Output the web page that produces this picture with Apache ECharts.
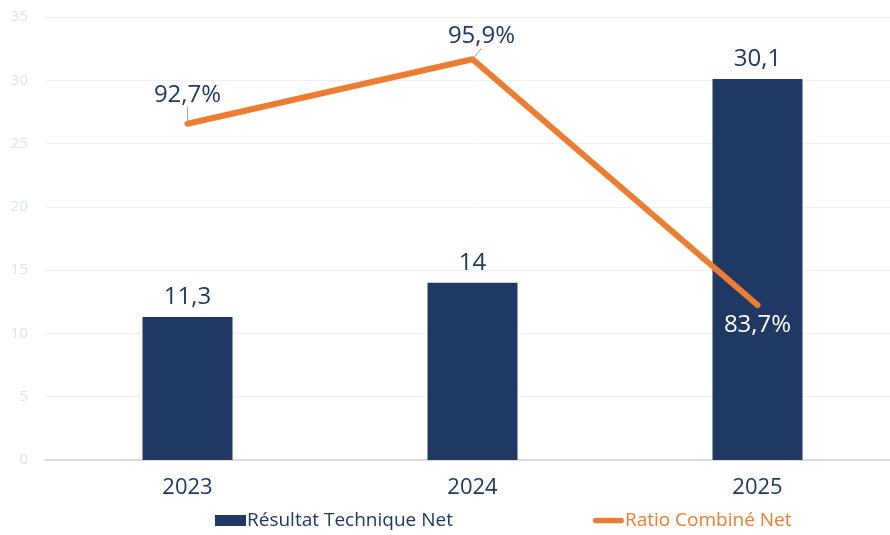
<!DOCTYPE html>
<html>
<head>
<meta charset="utf-8">
<script src="https://cdn.jsdelivr.net/npm/echarts@6/dist/echarts.min.js"></script>
<style>html,body{margin:0;padding:0;background:#fff;overflow:hidden}#c{width:900px;height:535px}</style>
</head>
<body>
<div id="c"></div>
<script>
const categories = ['2023', '2024', '2025'];
const resultatTechnique = [11.3, 14, 30.1];
const ratioCombine = [92.7, 95.9, 83.7];
const seriesNames = ['Résultat Technique Net', 'Ratio Combiné Net'];

const navy = '#203864';
const orange = '#ED7D31';
const fmt = v => String(v).replace('.', ',');

const chart = echarts.init(document.getElementById('c'));
chart.setOption({
  animation: false,
  textStyle: { fontFamily: 'Open Sans' },
  grid: { left: 45, top: 17, width: 855, height: 443 },
  legend: {
    bottom: 0,
    left: 210,
    itemGap: 140,
    itemWidth: 31,
    itemHeight: 11,
    textStyle: { fontSize: 19, fontFamily: 'Open Sans', padding: [0, 0, 0, -4] },
    data: [
      { name: seriesNames[0], icon: 'rect', textStyle: { color: navy } },
      { name: seriesNames[1], icon: 'path://M3,0 L30,0 A3,3 0 0 1 30,6 L3,6 A3,3 0 0 1 3,0 Z', textStyle: { color: orange } }
    ]
  },
  xAxis: {
    type: 'category',
    data: categories,
    axisTick: { show: false },
    axisLine: { lineStyle: { color: '#d9d9d9', width: 2 } },
    axisLabel: { color: navy, fontSize: 22, margin: 17 }
  },
  yAxis: [
    {
      type: 'value', min: 0, max: 35, interval: 5,
      axisLine: { show: false }, axisTick: { show: false },
      axisLabel: { color: '#dde4ee', fontSize: 15, margin: 17 },
      splitLine: { lineStyle: { color: '#f0f0f0', width: 1 } }
    },
    {
      type: 'value', min: 76, max: 98, show: false,
      splitLine: { show: false }
    }
  ],
  series: [
    {
      name: seriesNames[0],
      type: 'bar',
      data: resultatTechnique,
      barWidth: 90,
      itemStyle: { color: navy },
      label: {
        show: true, position: 'top', distance: 8,
        color: navy, fontSize: 24,
        formatter: p => fmt(p.value)
      }
    },
    {
      name: seriesNames[1],
      type: 'line',
      yAxisIndex: 1,
      data: ratioCombine.map((v, i) => i === 2 ? {
        value: v,
        label: { position: 'bottom', color: '#ffffff', distance: 8 },
        labelLine: { show: false }
      } : { value: v }),
      symbol: 'circle',
      symbolSize: 0.1,
      showSymbol: true,
      lineStyle: { color: orange, width: 6, cap: 'round', join: 'round' },
      itemStyle: { color: orange },
      label: {
        show: true, position: 'top', distance: 3,
        color: navy, fontSize: 24,
        formatter: p => fmt(p.value) + '%'
      },
      labelLayout: p => p.dataIndex === 0 ? { dy: -14 } : (p.dataIndex === 1 ? { dy: -8, dx: 9 } : {}),
      labelLine: { show: true, lineStyle: { color: '#a6a6a6', width: 1 } }
    }
  ]
});
</script>
</body>
</html>
